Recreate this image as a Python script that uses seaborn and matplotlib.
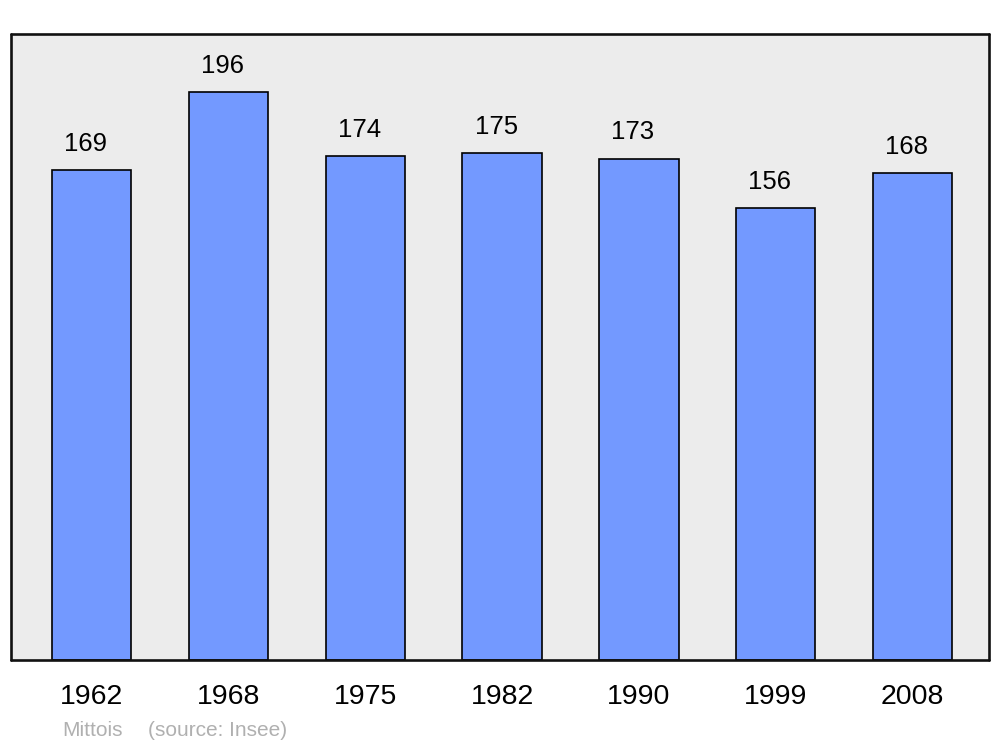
import matplotlib
matplotlib.use("Agg")
import matplotlib.pyplot as plt
import seaborn as sns
import pandas as pd

# population data
years = ["1962", "1968", "1975", "1982", "1990", "1999", "2008"]
population = [169, 196, 174, 175, 173, 156, 168]

df = pd.DataFrame({"year": years, "population": population})

sns.set_style("white")
plt.rcParams["font.family"] = ["Liberation Sans", "DejaVu Sans"]
plt.rcParams["text.color"] = "black"
plt.rcParams["xtick.color"] = "black"

fig = plt.figure(figsize=(10, 7.47), dpi=100)
ax = fig.add_axes([0.011, 0.1165, 0.978, 0.838])
ax.set_facecolor("#ececec")

sns.barplot(data=df, x="year", y="population", order=years, color="#7399ff",
            saturation=1, width=0.58, edgecolor="black", linewidth=1.2, ax=ax)

ax.set_ylim(0, 216)
ax.set_xlim(-0.59, 6.56)

# value labels above the bars (slightly left of centre, like the original)
for i, v in enumerate(population):
    ax.annotate(str(v), xy=(i, v), xytext=(-4.3, 18.8), textcoords="offset points",
                ha="center", va="center", fontsize=18.5, color="black")

ax.set_yticks([])
ax.set_xlabel("")
ax.set_ylabel("")
ax.tick_params(axis="x", length=0, pad=17.5, labelsize=20.5, labelcolor="black")

for s in ax.spines.values():
    s.set_linewidth(1.9)
    s.set_color("#111111")
    s.set_capstyle("round")
    s.set_joinstyle("round")

fig.text(0.062, 0.0225, "Mittois", color="#b0b0b0", fontsize=15, va="center")
fig.text(0.148, 0.0225, "(source: Insee)", color="#b0b0b0", fontsize=15, va="center")

fig.savefig("out.png", dpi=100, facecolor="white")
